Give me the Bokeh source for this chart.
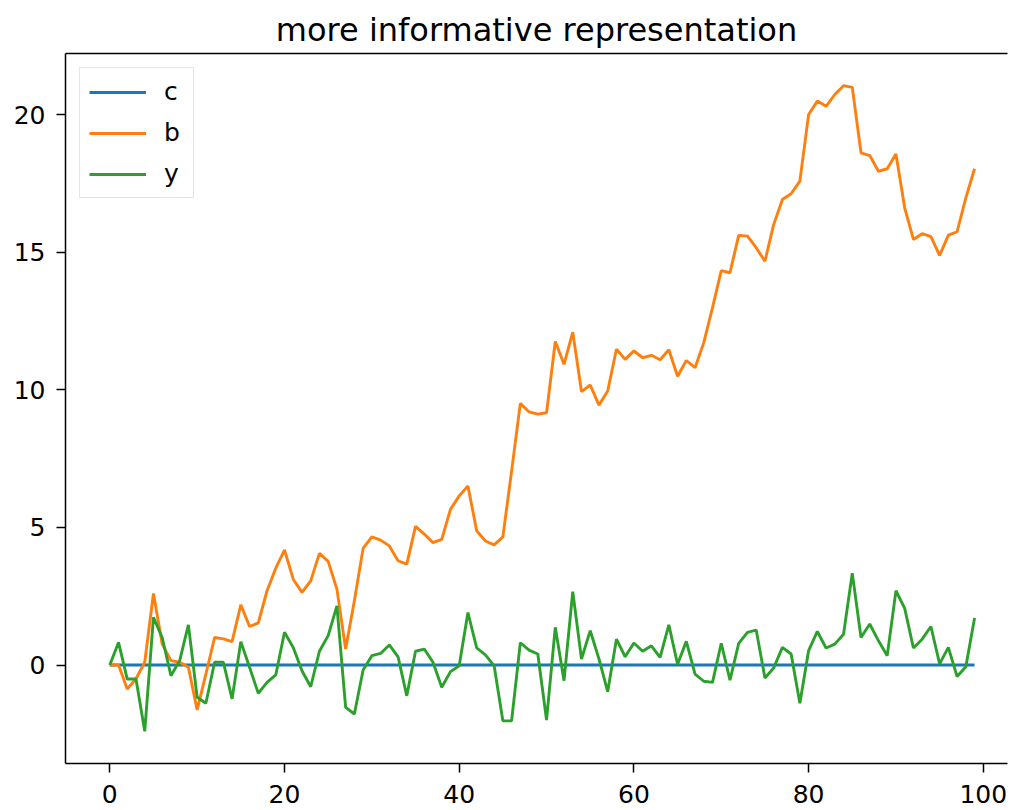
from bokeh.plotting import figure
from bokeh.models import LinearAxis, Legend, LegendItem, FixedTicker, Range1d, ColumnDataSource
from bokeh.embed import file_html
from bokeh.resources import INLINE

# ---- data ----
x = list(range(100))

c = [0.0, 0.0, 0.0, 0.0, 0.0, 0.0, 0.0, 0.0, 0.0, 0.0,
     0.0, 0.0, 0.0, 0.0, 0.0, 0.0, 0.0, 0.0, 0.0, 0.0,
     0.0, 0.0, 0.0, 0.0, 0.0, 0.0, 0.0, 0.0, 0.0, 0.0,
     0.0, 0.0, 0.0, 0.0, 0.0, 0.0, 0.0, 0.0, 0.0, 0.0,
     0.0, 0.0, 0.0, 0.0, 0.0, 0.0, 0.0, 0.0, 0.0, 0.0,
     0.0, 0.0, 0.0, 0.0, 0.0, 0.0, 0.0, 0.0, 0.0, 0.0,
     0.0, 0.0, 0.0, 0.0, 0.0, 0.0, 0.0, 0.0, 0.0, 0.0,
     0.0, 0.0, 0.0, 0.0, 0.0, 0.0, 0.0, 0.0, 0.0, 0.0,
     0.0, 0.0, 0.0, 0.0, 0.0, 0.0, 0.0, 0.0, 0.0, 0.0,
     0.0, 0.0, 0.0, 0.0, 0.0, 0.0, 0.0, 0.0, 0.0, 0.0]

b = [0.0, 0.0, -0.87, -0.5, 0.1, 2.6, 0.76, 0.16, 0.1, -0.08,
     -1.63, -0.33, 1.0, 0.95, 0.85, 2.19, 1.4, 1.53, 2.7, 3.52,
     4.18, 3.12, 2.64, 3.06, 4.06, 3.77, 2.76, 0.58, 2.34, 4.24,
     4.66, 4.54, 4.33, 3.79, 3.67, 5.04, 4.76, 4.45, 4.57, 5.66,
     6.15, 6.51, 4.88, 4.51, 4.37, 4.66, 7.05, 9.51, 9.2, 9.12,
     9.17, 11.76, 10.93, 12.1, 9.94, 10.18, 9.45, 9.96, 11.48, 11.11,
     11.42, 11.17, 11.26, 11.1, 11.46, 10.5, 11.07, 10.81, 11.72, 12.99,
     14.34, 14.26, 15.62, 15.59, 15.17, 14.68, 16.01, 16.92, 17.13, 17.59,
     20.01, 20.5, 20.31, 20.74, 21.06, 21.0, 18.62, 18.52, 17.95, 18.04,
     18.58, 16.62, 15.47, 15.68, 15.57, 14.89, 15.63, 15.75, 16.98, 18.04]

y = [0.0, 0.82, -0.51, -0.51, -2.41, 1.73, 1.0, -0.39, 0.16, 1.46,
     -1.17, -1.39, 0.1, 0.1, -1.23, 0.85, -0.08, -1.03, -0.63, -0.36,
     1.19, 0.64, -0.21, -0.79, 0.5, 1.07, 2.15, -1.54, -1.78, -0.18,
     0.34, 0.42, 0.73, 0.3, -1.12, 0.5, 0.58, 0.1, -0.81, -0.24,
     -0.03, 1.91, 0.62, 0.37, -0.03, -2.03, -2.03, 0.81, 0.54, 0.4,
     -2.0, 1.37, -0.57, 2.67, 0.22, 1.25, 0.22, -0.97, 0.94, 0.3,
     0.8, 0.5, 0.7, 0.28, 1.46, 0.03, 0.86, -0.33, -0.59, -0.63,
     0.79, -0.55, 0.79, 1.19, 1.27, -0.47, -0.11, 0.64, 0.4, -1.39,
     0.52, 1.22, 0.62, 0.76, 1.12, 3.34, 1.0, 1.49, 0.88, 0.34,
     2.7, 2.06, 0.62, 0.94, 1.4, 0.04, 0.64, -0.42, -0.06, 1.71]

series_names = ["c", "b", "y"]
series_colors = ["#1f77b4", "#ff7f0e", "#2ca02c"]
x_ticks = [0, 20, 40, 60, 80, 100]
y_ticks = [0, 5, 10, 15, 20]
title_text = "more informative representation"

FONT = "DejaVu Sans"

src = ColumnDataSource(dict(x=x, c=c, b=b, y=y))

p = figure(width=1013, height=810, output_backend="svg", toolbar_location=None,
           x_range=Range1d(-5.07, 102.77), y_range=Range1d(-3.58, 22.23),
           min_border_left=65, min_border_right=6, min_border_top=53, min_border_bottom=47,
           title=title_text)
p.outline_line_color = None
p.background_fill_color = "white"
p.border_fill_color = "white"
p.xgrid.grid_line_color = None
p.ygrid.grid_line_color = None

p.title.text_font = FONT
p.title.text_font_size = "32px"
p.title.text_font_style = "normal"
p.title.align = "center"
p.title.offset = 5
p.title.text_color = "black"

for ax, ticks, so in ((p.xaxis[0], x_ticks, 12), (p.yaxis[0], y_ticks, 11)):
    ax.ticker = FixedTicker(ticks=ticks)
    ax.minor_tick_line_color = None
    ax.major_tick_out = 9
    ax.major_tick_in = 0
    ax.major_tick_line_width = 1.5
    ax.major_tick_line_color = "black"
    ax.axis_line_width = 1.5
    ax.axis_line_color = "black"
    ax.major_label_text_font = FONT
    ax.major_label_text_font_size = "25px"
    ax.major_label_text_color = "black"
    ax.major_label_standoff = so

# top spine
top = LinearAxis(ticker=FixedTicker(ticks=[]), major_tick_out=0, major_tick_in=0,
                 minor_tick_out=0, minor_tick_in=0, major_label_text_font_size="0px",
                 axis_line_width=1.5, axis_line_color="black")
p.add_layout(top, "above")

renderers = []
for name, col in zip(series_names, series_colors):
    r = p.line("x", name, source=src, line_color=col, line_width=2.9)
    renderers.append(r)

legend = Legend(items=[LegendItem(label=n, renderers=[r]) for n, r in zip(series_names, renderers)],
                location="top_left")
legend.margin = 14
legend.padding = 9
legend.spacing = 12
legend.glyph_width = 57
legend.glyph_height = 24
legend.label_height = 24
legend.label_standoff = 18
legend.label_text_font = FONT
legend.label_text_font_size = "25px"
legend.label_text_color = "black"
legend.border_line_color = "#cccccc"
legend.border_line_width = 1.5
legend.background_fill_alpha = 0.8
p.add_layout(legend)

open("out.html", "w").write(file_html(p, INLINE))
